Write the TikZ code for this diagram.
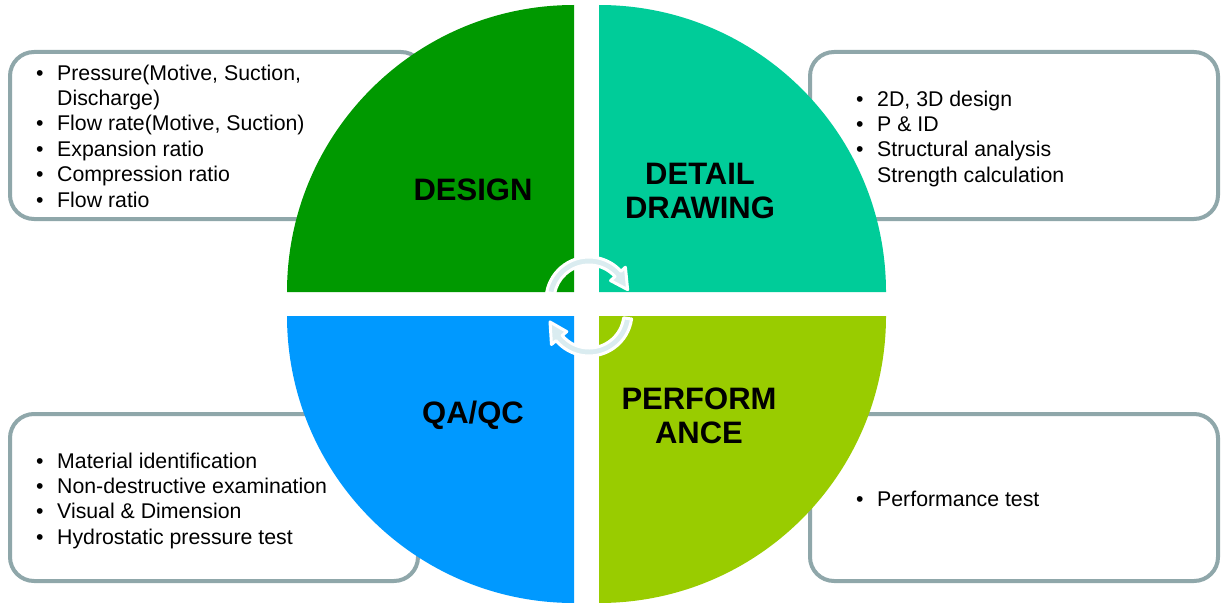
\documentclass[tikz,border=0pt]{standalone}
\usepackage{fontspec}
\setmainfont{Liberation Sans}
\tikzstyle{sheet} = [x = 1pt, y = -1pt]
\definecolor{designColor}{RGB}{0,153,0}
\definecolor{drawingColor}{RGB}{0,204,153}
\definecolor{qualityColor}{RGB}{0,153,255}
\definecolor{performanceColor}{RGB}{153,204,0}
\definecolor{boxLineColor}{RGB}{143,167,170}
\definecolor{cycleColor}{RGB}{218,236,240}
\tikzstyle{boxStyle} = [draw=boxLineColor, fill=white, line width = 4, rounded corners = 24]
\tikzstyle{titleText} = [font=\fontsize{31}{34}\selectfont\bfseries, align=center, inner sep=0]
\tikzstyle{listText} = [font=\fontsize{21.3}{25.4}\selectfont, anchor=base west, inner sep=0]
\tikzstyle{cycleArrow} = [fill=cycleColor, draw=white, line width = 3, line join=round]
\newcommand{\quarterRadius}{287}
\newcommand{\bul}{\makebox[21pt][l]{\textbullet}}
\newcommand{\nobul}{\hspace*{21pt}}
\newcommand{\listBox}[4]{\draw [boxStyle] (#1, #2) rectangle (#3, #4);}
\newcommand{\quadrant}[4]{\fill [#4] (#1, #2) -- +(#3:\quarterRadius) arc [start angle = #3, end angle = #3 + 90, radius = \quarterRadius] -- cycle;}
\newcommand{\listLines}[4]{
  \foreach \entry [count=\i] in {#4} {
    \node [listText] (#1-\i) at (#2, #3 + 25.4 * \i - 25.4) {\entry};
  }
}

\begin{document}
\begin{tikzpicture}[sheet]
  \useasboundingbox (0,0) rectangle (1222,602);
  \listBox{10}{52}{425}{219}
  \listBox{810}{52}{1218}{219}
  \listBox{10}{414}{418}{581}
  \listBox{810}{414}{1218}{581}

  \quadrant{574}{292}{180}{designColor}
  \quadrant{599}{292}{270}{drawingColor}
  \quadrant{574}{316}{90}{qualityColor}
  \quadrant{599}{316}{0}{performanceColor}

  \node [titleText] (design) at (473, 189.5) {DESIGN};
  \node [titleText] (detailDrawing) at (700, 190.5) {DETAIL\\DRAWING};
  \node [titleText] (qaqc) at (473, 415) {QA/QC};
  \node [titleText] (performance) at (699, 416) {PERFORM\\ANCE};

  % cycle arrows in the middle
  \begin{scope}[shift={(589,300)}]
    \filldraw [cycleArrow] (190:35) -- (190:43) arc [start angle = 190, end angle = 318, radius = 43] -- (318:49) -- (345:40) -- (318:29) -- (318:35) arc [start angle = 318, end angle = 190, radius = 35] -- cycle;
  \end{scope}
  \begin{scope}[shift={(589,313)}]
    \filldraw [cycleArrow] (8:35) -- (8:43) arc [start angle = 8, end angle = 140, radius = 43] -- (140:49) -- (167:40) -- (140:29) -- (140:35) arc [start angle = 140, end angle = 8, radius = 35] -- cycle;
  \end{scope}

  \listLines{designList}{36}{80}{{\bul Pressure(Motive, Suction,}, {\nobul Discharge)}, {\bul Flow rate(Motive, Suction)}, {\bul Expansion ratio}, {\bul Compression ratio}, {\bul Flow ratio}}
  \listLines{drawingList}{856}{106}{{\bul 2D, 3D design}, {\bul P \& ID}, {\bul Structural analysis}, {\nobul Strength calculation}}
  \listLines{qualityList}{36}{468}{{\bul Material identification}, {\bul Non-destructive examination}, {\bul Visual \& Dimension}, {\bul Hydrostatic pressure test}}
  \listLines{performanceList}{856}{506}{{\bul Performance test}}
\end{tikzpicture}
\end{document}
